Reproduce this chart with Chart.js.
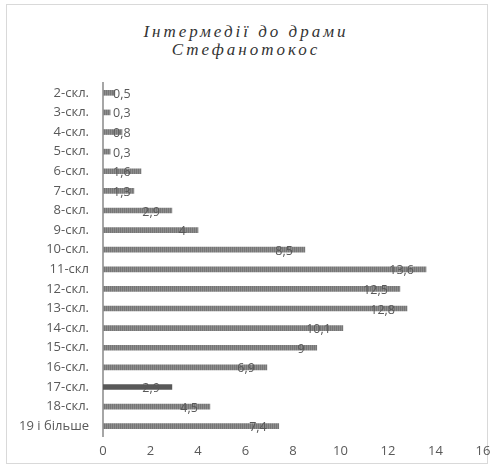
<!DOCTYPE html>
<html>
<head>
<meta charset="utf-8">
<script src="https://cdn.jsdelivr.net/npm/chart.js@4/dist/chart.umd.min.js"></script>
<style>
  body { margin: 0; background: #fff; }
  #wrap { position: relative; width: 492px; height: 468px; }
  #frame { position: absolute; left: 6px; top: 4px; width: 482px; height: 460px; border: 1px solid #d9d9d9; box-sizing: border-box; }
  #title {
    position: absolute; left: 0; top: 23px; width: 492px; text-align: center;
    font-family: "Liberation Serif", serif; font-style: italic; font-size: 17px;
    letter-spacing: 3px; line-height: 18px; color: #333;
  }
  canvas { position: absolute; left: 0; top: 0; }
</style>
</head>
<body>
<div id="wrap">
  <div id="frame"></div>
  <div id="title">Інтермедії до драми<br>Стефанотокос</div>
  <canvas id="chart" width="492" height="468"></canvas>
</div>
<script>
// ── DATA ───────────────────────────────────────────────────────────────
const categories = ['2-скл.', '3-скл.', '4-скл.', '5-скл.', '6-скл.', '7-скл.', '8-скл.', '9-скл.',
  '10-скл.', '11-скл', '12-скл.', '13-скл.', '14-скл.', '15-скл.', '16-скл.', '17-скл.', '18-скл.', '19 і більше'];
const values = [0.5, 0.3, 0.8, 0.3, 1.6, 1.3, 2.9, 4, 8.5, 13.6, 12.5, 12.8, 10.1, 9, 6.9, 2.9, 4.5, 7.4];
const xTicks = [0, 2, 4, 6, 8, 10, 12, 14, 16];

const TEXT = '#595959';
const FONT = '"Open Sans", "Noto Sans", sans-serif';

// fine vertical stripes like the original bars
function makePattern() {
  const c = document.createElement('canvas');
  c.width = 2; c.height = 2;
  const g = c.getContext('2d');
  g.fillStyle = '#8e8e8e'; g.fillRect(0, 0, 2, 2);
  g.fillStyle = '#767676'; g.fillRect(0, 0, 1, 2);
  return g.createPattern(c, 'repeat');
}
const pattern = makePattern();
const barColors = categories.map((c, i) => i === 15 ? '#595959' : pattern);

// ── DATA LABELS ────────────────────────────────────────────────────────
const labelPlugin = {
  id: 'barLabels',
  afterDatasetsDraw(chart) {
    const ctx = chart.ctx;
    const meta = chart.getDatasetMeta(0);
    const base = chart.scales.x.getPixelForValue(0);
    ctx.save();
    ctx.font = '12.5px ' + FONT;
    ctx.fillStyle = TEXT;
    ctx.textBaseline = 'middle';
    ctx.textAlign = 'left';
    meta.data.forEach((bar, i) => {
      const txt = String(values[i]).replace('.', ',');
      const w = ctx.measureText(txt).width;
      const left = Math.max(base + 10, bar.x - 12 - w);
      ctx.fillText(txt, left, bar.y + 1.5);
    });
    ctx.restore();
  }
};

// ── CHART ──────────────────────────────────────────────────────────────
new Chart(document.getElementById('chart'), {
  type: 'bar',
  data: {
    labels: categories,
    datasets: [{
      data: values,
      backgroundColor: barColors,
      barThickness: 5,
    }]
  },
  options: {
    indexAxis: 'y',
    responsive: false,
    animation: false,
    layout: { padding: { top: 83, right: 9, bottom: 10, left: 0 } },
    plugins: {
      legend: { display: false },
      tooltip: { enabled: false },
    },
    scales: {
      x: {
        min: 0,
        max: 16,
        afterBuildTicks: (scale) => { scale.ticks = xTicks.map(v => ({ value: v })); },
        grid: { display: false, drawTicks: false },
        border: { display: false },
        ticks: { color: TEXT, font: { family: FONT, size: 13 }, padding: 7 },
        afterFit: (scale) => {
          scale.height = 22;
          scale.paddingRight = 0;
          scale.paddingLeft = 0;
        },
      },
      y: {
        grid: { display: false, drawTicks: false },
        border: { display: true, color: '#a6a6a6', width: 2 },
        ticks: { color: TEXT, font: { family: FONT, size: 13 }, padding: 14 },
        afterFit: (scale) => { scale.width = 103; },
      }
    }
  },
  plugins: [labelPlugin]
});
</script>
</body>
</html>
